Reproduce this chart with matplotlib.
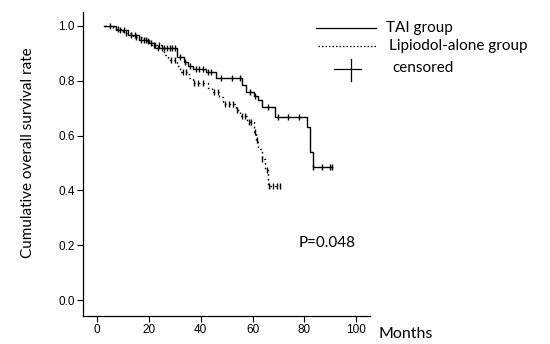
import numpy as np
import matplotlib
matplotlib.use("Agg")
import matplotlib.pyplot as plt
from matplotlib.lines import Line2D

# ---- data ----
start_time = 2.5
tai_times = [7.5, 12, 16, 20, 22.5, 31, 33.5, 35, 37, 42, 46, 56, 57.5, 60.5, 62, 63.5, 68.5, 81.2, 82, 83.2]
tai_surv  = [0.985, 0.967, 0.95, 0.938, 0.92, 0.887, 0.87, 0.855, 0.843, 0.832, 0.81, 0.785, 0.76, 0.745, 0.73, 0.704, 0.668, 0.63, 0.54, 0.485]
tai_end = 90.7
tai_censor = [9, 10.5, 13, 14.5, 17, 18, 19, 21, 23.5, 25, 26, 27, 28, 29, 30, 32, 34, 36, 38, 39.5, 41,
              43, 44, 48, 52, 55, 59, 61, 66, 70, 73.7, 78, 83.4, 87, 90, 90.7]

lip_times = [6, 10, 14, 18, 21, 26, 27.5, 31, 32, 35.5, 37, 43, 44.5, 47, 48.5, 53.5, 55, 58, 60.5, 61.5, 62, 63.5, 65, 66]
lip_surv  = [0.99, 0.975, 0.96, 0.945, 0.93, 0.895, 0.876, 0.855, 0.832, 0.81, 0.792, 0.775, 0.76, 0.74, 0.715, 0.693, 0.67, 0.65, 0.613, 0.584, 0.55, 0.515, 0.474, 0.416]
lip_end = 70.5
lip_censor = [5, 8, 11, 15, 19.5, 22, 24, 28.5, 30, 33, 34.5, 37.5, 39, 41, 45, 46.5, 49.5, 51, 52.5, 54,
              56, 57, 58.5, 59.5, 60.8, 61.8, 63.8, 65.5, 66.5, 68, 69.3, 70.5]

xticks = [0, 20, 40, 60, 80, 100]
yticks = [0.0, 0.2, 0.4, 0.6, 0.8, 1.0]
p_text = "P=0.048"
legend_labels = ["TAI group", "Lipiodol-alone group", "censored"]


def km_xy(times, surv, end):
    x = np.concatenate([[start_time], times, [end]])
    y = np.concatenate([[1.0], surv, [surv[-1]]])
    return x, y


def surv_at(times, surv, t):
    t = np.asarray(t)
    idx = np.searchsorted(np.asarray(times), t, side="right")
    vals = np.concatenate([[1.0], surv])
    return vals[idx]


fig = plt.figure(figsize=(5.5, 3.44), dpi=100)
ax = fig.add_axes([0.151, 0.0814, 0.522, 0.884])

lab_font = "Lato"
tick_font = "Liberation Sans"

x, y = km_xy(tai_times, tai_surv, tai_end)
ax.plot(x, y, drawstyle="steps-post", color="black", lw=1.0)
ax.plot(tai_censor, surv_at(tai_times, tai_surv, tai_censor), ls="none",
        marker="|", ms=5, mew=1.0, color="black")

x, y = km_xy(lip_times, lip_surv, lip_end)
ax.plot(x, y, drawstyle="steps-post", color="black", lw=1.0, ls=(0, (1.2, 2.2)))
ax.plot(lip_censor, surv_at(lip_times, lip_surv, lip_censor), ls="none",
        marker="|", ms=5, mew=1.0, color="black")

ax.set_xlim(-5.4, 105.4)
ax.set_ylim(-0.058, 1.051)
ax.set_xticks(xticks)
ax.set_yticks(yticks)
ax.set_xticklabels([str(v) for v in xticks], fontfamily=tick_font, fontsize=8.5)
ax.set_yticklabels([f"{v:.1f}" for v in yticks], fontfamily=tick_font, fontsize=8.5)
ax.tick_params(direction="out", length=4, width=0.8, pad=2)
for s in ["top", "right"]:
    ax.spines[s].set_visible(False)
for s in ["left", "bottom"]:
    ax.spines[s].set_linewidth(0.9)


def fx(px):
    return px / 550.0


def fy(py):
    return 1 - py / 344.0


fig.text(fx(28), fy(153), "Cumulative overall survival rate", fontfamily=lab_font, fontsize=11,
         rotation=90, ha="center", va="center")
fig.text(fx(379), fy(334), "Months", fontfamily=lab_font, fontsize=11.5, ha="left", va="center")
fig.text(fx(299), fy(243), p_text, fontfamily=lab_font, fontsize=11, ha="left", va="center")

# manual legend (figure coords)
fig.add_artist(Line2D([fx(316), fx(376)], [fy(28), fy(28)], color="black", lw=0.9))
fig.text(fx(386), fy(28), legend_labels[0], fontfamily=lab_font, fontsize=11, va="center")
fig.add_artist(Line2D([fx(318), fx(377)], [fy(46), fy(46)], color="black", lw=0.9, ls=(0, (1.2, 1.6))))
fig.text(fx(389), fy(46), legend_labels[1], fontfamily=lab_font, fontsize=11, va="center")
fig.add_artist(Line2D([fx(334), fx(361)], [fy(69), fy(69)], color="black", lw=0.9))
fig.add_artist(Line2D([fx(351), fx(351)], [fy(59), fy(81)], color="black", lw=0.9))
fig.text(fx(392), fy(68), legend_labels[2], fontfamily=lab_font, fontsize=11, va="center")

fig.savefig("out.png", dpi=100)
